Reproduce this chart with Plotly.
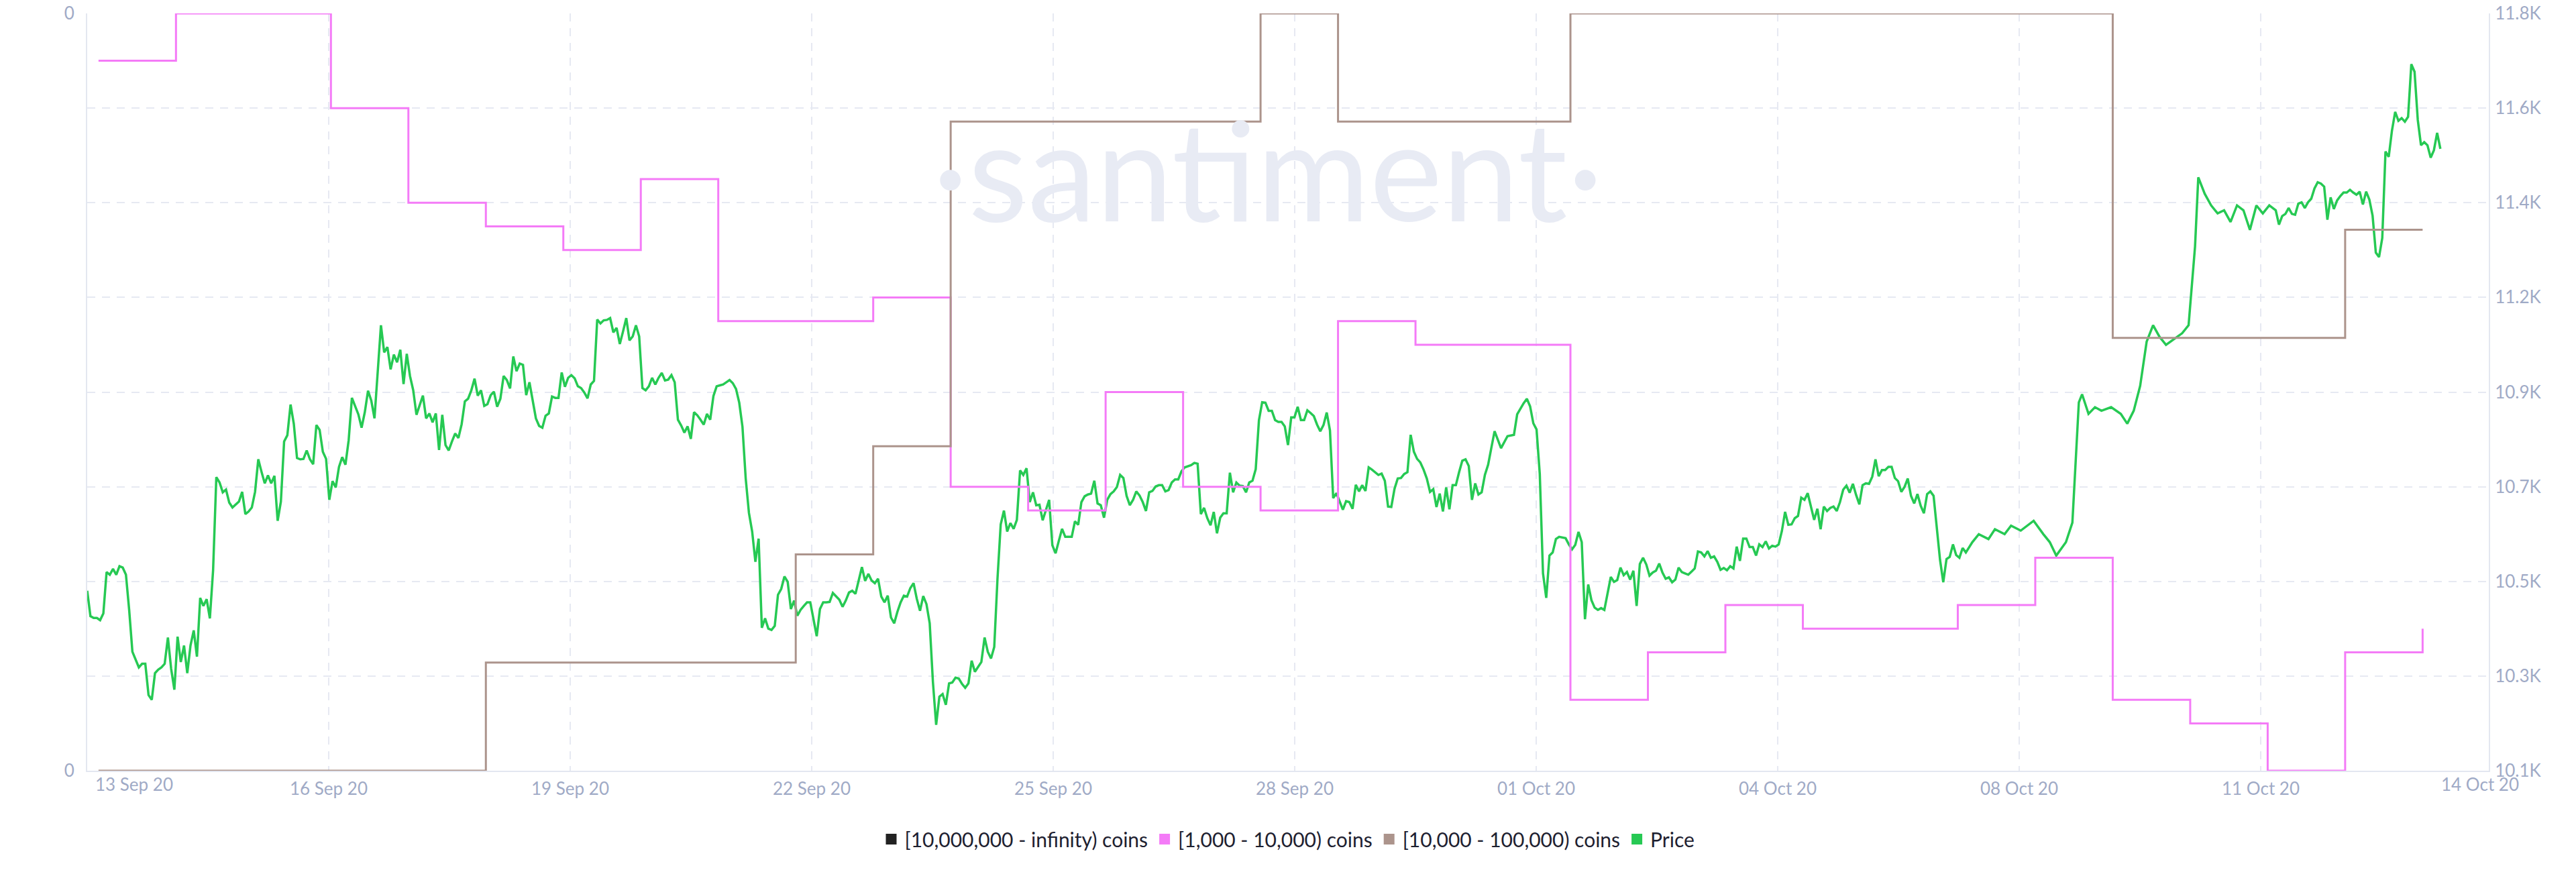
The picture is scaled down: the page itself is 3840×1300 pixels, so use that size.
import pandas as pd
import plotly.graph_objects as go

# ---------------- data ----------------
axis_start = "2020-09-12 20:30"
axis_end = "2020-10-13 20:30"

x_tick_labels = ["13 Sep 20", "16 Sep 20", "19 Sep 20", "22 Sep 20", "25 Sep 20",
                 "28 Sep 20", "01 Oct 20", "04 Oct 20", "08 Oct 20", "11 Oct 20", "14 Oct 20"]

price_tick_values = [10100, 10312.5, 10525, 10737.5, 10950, 11162.5, 11375, 11587.5, 11800]
price_tick_labels = ["10.1K", "10.3K", "10.5K", "10.7K", "10.9K", "11.2K", "11.4K", "11.6K", "11.8K"]

series_names = ["[10,000,000 - infinity) coins", "[1,000 - 10,000) coins",
                "[10,000 - 100,000) coins", "Price"]

# daily holder counts (relative units above the period minimum)
holder_dates = pd.date_range("2020-09-13", "2020-10-13", freq="D")
holders_1k_10k = [30, 32, 32, 28, 24, 23, 22, 25, 19, 19, 20, 12, 11, 16, 12, 11,
                  19, 18, 18, 3, 5, 7, 6, 6, 7, 9, 3, 2, 0, 5, 6]
holders_10k_100k = [0, 0, 0, 0, 0, 1, 1, 1, 1, 2, 3, 6, 6, 6, 6, 7,
                    6, 6, 6, 7, 7, 7, 7, 7, 7, 7, 4, 4, 4, 5, 5]
holders_1k_10k_scale = [0, 32]
holders_10k_100k_scale = [0, 7]

# hourly BTC price (hours after price_start)
price_start = "2020-09-12 20:30"
price_hours = (list(range(0, 437))
               + [438, 439, 440, 442, 443, 445, 446, 447, 448, 449, 450, 451, 452,
                  453, 454, 455, 456, 458, 459]
               + list(range(460, 583))
               + [584, 586, 589, 591, 594, 596, 599, 603, 606, 608, 610, 613, 615,
                  617, 618, 620, 622, 624, 627, 630, 632, 634, 636, 638, 640, 642,
                  644, 646, 649, 651, 653, 654, 656, 658, 660, 662, 664, 666, 668,
                  670, 672, 674, 676, 678]
               + list(range(679, 730)))
price_usd = [
    10504, 10447, 10443, 10443, 10438, 10453, 10546, 10540, 10553, 10540,
    10559, 10556, 10540, 10461, 10367, 10348, 10332, 10340, 10340, 10270,
    10259, 10319, 10327, 10332, 10340, 10399, 10329, 10282, 10401, 10344,
    10381, 10319, 10381, 10415, 10356, 10488, 10470, 10485, 10442, 10550,
    10759, 10747, 10725, 10731, 10702, 10691, 10698, 10704, 10726, 10676,
    10682, 10691, 10726, 10799, 10771, 10745, 10763, 10745, 10762, 10661,
    10704, 10839, 10853, 10922, 10879, 10802, 10799, 10800, 10819, 10799,
    10788, 10876, 10865, 10816, 10800, 10708, 10750, 10736, 10782, 10804,
    10787, 10842, 10937, 10919, 10900, 10870, 10905, 10953, 10931, 10891,
    11002, 11100, 11039, 11051, 11001, 11034, 11017, 11045, 10968, 11036,
    10986, 10954, 10899, 10919, 10942, 10891, 10902, 10882, 10902, 10820,
    10899, 10831, 10819, 10839, 10857, 10847, 10878, 10929, 10935, 10954,
    10980, 10942, 10954, 10919, 10923, 10943, 10951, 10917, 10935, 10986,
    10977, 10958, 11030, 10997, 11014, 11011, 10943, 10972, 10931, 10891,
    10874, 10870, 10897, 10902, 10940, 10937, 10937, 10994, 10962, 10982,
    10988, 10981, 10963, 10959, 10949, 10936, 10967, 10975, 11113, 11104,
    11111, 11112, 11116, 11084, 11094, 11058, 11086, 11116, 11066, 11075,
    11100, 11075, 10959, 10954, 10963, 10982, 10967, 10982, 10993, 10976,
    10978, 10988, 10972, 10888, 10875, 10859, 10873, 10845, 10905, 10898,
    10888, 10877, 10901, 10888, 10941, 10963, 10965, 10967, 10972, 10977,
    10970, 10957, 10926, 10872, 10756, 10679, 10637, 10569, 10621, 10421,
    10442, 10419, 10416, 10425, 10495, 10508, 10536, 10524, 10463, 10482,
    10448, 10461, 10470, 10478, 10478, 10442, 10402, 10463, 10478, 10478,
    10479, 10499, 10491, 10484, 10468, 10482, 10500, 10504, 10497, 10526,
    10557, 10526, 10542, 10527, 10521, 10531, 10491, 10478, 10493, 10444,
    10431, 10457, 10478, 10493, 10491, 10510, 10521, 10486, 10459, 10492,
    10474, 10431, 10299, 10203, 10266, 10272, 10248, 10296, 10298, 10309,
    10307, 10295, 10286, 10296, 10347, 10322, 10333, 10344, 10399, 10367,
    10352, 10378, 10531, 10653, 10684, 10637, 10656, 10643, 10663, 10774,
    10764, 10779, 10703, 10725, 10696, 10697, 10662, 10683, 10708, 10606,
    10588, 10616, 10643, 10625, 10625, 10625, 10660, 10652, 10703, 10716,
    10720, 10722, 10751, 10700, 10696, 10668, 10708, 10721, 10727, 10737,
    10764, 10757, 10717, 10696, 10708, 10727, 10718, 10703, 10683, 10725,
    10728, 10738, 10741, 10741, 10727, 10730, 10747, 10754, 10754, 10772,
    10781, 10784, 10786, 10791, 10789, 10676, 10690, 10667, 10651, 10681,
    10633, 10668, 10678, 10678, 10769, 10725, 10747, 10740, 10739, 10725,
    10747, 10751, 10777, 10887, 10927, 10926, 10908, 10908, 10887, 10883,
    10883, 10873, 10831, 10893, 10893, 10917, 10887, 10887, 10909, 10903,
    10896, 10877, 10862, 10876, 10904, 10864, 10712, 10723, 10705, 10686,
    10705, 10703, 10688, 10742, 10727, 10741, 10728, 10781, 10776, 10770,
    10764, 10767, 10751, 10693, 10692, 10733, 10756, 10757, 10766, 10770,
    10854, 10816, 10800, 10792, 10776, 10756, 10726, 10732, 10692, 10722,
    10682, 10736, 10687, 10741, 10741, 10770, 10796, 10799, 10784, 10708,
    10745, 10720, 10725, 10764, 10787, 10825, 10862,
    # 438..459 (sparse)
    10824, 10838, 10851, 10854, 10900, 10925, 10935, 10918, 10880, 10866,
    10766, 10543, 10488, 10583, 10590, 10620, 10625, 10622, 10608,
    # 460..582
    10597, 10607, 10636, 10613, 10440, 10518, 10483, 10466, 10461, 10465,
    10461, 10498, 10535, 10524, 10528, 10556, 10539, 10546, 10529, 10549,
    10470, 10564, 10578, 10563, 10538, 10545, 10549, 10565, 10545, 10531,
    10534, 10523, 10529, 10556, 10546, 10543, 10540, 10547, 10554, 10592,
    10590, 10581, 10593, 10578, 10581, 10569, 10551, 10555, 10550, 10559,
    10554, 10603, 10571, 10621, 10621, 10602, 10602, 10583, 10608, 10602,
    10615, 10599, 10605, 10603, 10608, 10638, 10681, 10652, 10653, 10667,
    10672, 10713, 10708, 10723, 10693, 10663, 10688, 10642, 10693, 10683,
    10690, 10693, 10683, 10703, 10731, 10740, 10724, 10744, 10719, 10698,
    10741, 10745, 10744, 10760, 10799, 10761, 10775, 10775, 10782, 10782,
    10757, 10750, 10726, 10737, 10756, 10717, 10700, 10721, 10695, 10678,
    10721, 10727, 10717, 10646, 10573, 10523, 10575, 10580, 10608, 10584,
    10578, 10600, 10590,
    # 584..678 (sparse)
    10613, 10631, 10620, 10642, 10631, 10650, 10639, 10661, 10631, 10613,
    10583, 10613, 10657, 10927, 10945, 10901, 10916, 10908, 10916, 10901,
    10879, 10908, 10964, 11063, 11100, 11074, 11056, 11067, 11082, 11100,
    11277, 11432, 11395, 11369, 11351, 11358, 11332, 11369, 11358, 11314,
    11369, 11351, 11369, 11358,
    # 679..729
    11326, 11345, 11350, 11363, 11350, 11348, 11373, 11376, 11363, 11376,
    11384, 11407, 11421, 11418, 11411, 11337, 11387, 11361, 11380, 11390,
    11398, 11398, 11404, 11398, 11393, 11400, 11371, 11400, 11382, 11346,
    11263, 11253, 11296, 11490, 11478, 11537, 11579, 11559, 11565, 11557,
    11568, 11686, 11669, 11561, 11504, 11511, 11504, 11476, 11493, 11532,
    11496,
]

# ---------------- styling ----------------
GREEN = "#26C953"
PINK = "#F47BF7"
BROWN = "#AC948C"
BLACK = "#222222"
GRID = "#E6E9F2"
AXLINE = "#E3E7F0"
TICK_TXT = "#9FAAC6"
FONT = "Lato, 'Open Sans', sans-serif"

t0 = pd.Timestamp(axis_start)
t1 = pd.Timestamp(axis_end)
span = t1 - t0
plot_px = 3580.0
step = span * (360.0 / plot_px)
inner_ticks = [(t0 + step * k).isoformat() for k in range(1, 10)]
end_ticks = [(t0 + span * (70.0 / plot_px)).isoformat(),
             (t0 + span * (3567.0 / plot_px)).isoformat()]

price_x = [pd.Timestamp(price_start) + pd.Timedelta(hours=h) for h in price_hours]

fig = go.Figure()

fig.add_trace(go.Scatter(x=holder_dates, y=holders_1k_10k, yaxis="y2", mode="lines",
                         line=dict(color=PINK, width=3, shape="hv"),
                         showlegend=False, hoverinfo="skip"))
fig.add_trace(go.Scatter(x=holder_dates, y=holders_10k_100k, yaxis="y3", mode="lines",
                         line=dict(color=BROWN, width=3, shape="hv"),
                         showlegend=False, hoverinfo="skip"))
fig.add_trace(go.Scatter(x=price_x, y=price_usd, yaxis="y", mode="lines",
                         line=dict(color=GREEN, width=3.5),
                         showlegend=False, hoverinfo="skip"))

for name, col, xa in zip(series_names, [BLACK, PINK, BROWN, GREEN], ["x2", "x", "x", "x"]):
    fig.add_trace(go.Scatter(x=[None], y=[None], xaxis=xa, mode="markers", name=name,
                             marker=dict(symbol="square", size=18, color=col)))

fig.add_annotation(text="·santiment·", xref="paper", yref="paper", x=0.4916, y=0.795,
                   xanchor="center", yanchor="middle", showarrow=False,
                   font=dict(family=FONT, size=205, color="#E8EBF4"))

# the page adds an 8px body margin, so the figure's own margins are offset by it
fig.update_layout(
    width=3840, height=1300,
    margin=dict(l=122, r=138, t=12, b=159, pad=0, autoexpand=False),
    paper_bgcolor="white", plot_bgcolor="white",
    font=dict(family=FONT, size=26, color=TICK_TXT),
    showlegend=True,
    legend=dict(orientation="h", x=0.5, xanchor="center", y=-0.0903, yanchor="middle",
                font=dict(family=FONT, size=30, color="#1E2130"),
                itemsizing="trace", bgcolor="rgba(0,0,0,0)"),
    xaxis=dict(type="date", range=[t0.isoformat(), t1.isoformat()], automargin=False,
               tickmode="array", tickvals=inner_ticks, ticktext=x_tick_labels[1:-1],
               showgrid=True, gridcolor=GRID, gridwidth=2, griddash="12px,10px",
               showline=True, linecolor=AXLINE, linewidth=2, mirror=False,
               ticks="", zeroline=False, ticklabelstandoff=3, ticklabeloverflow="allow",
               tickfont=dict(size=26, color=TICK_TXT)),
    xaxis2=dict(type="date", overlaying="x", anchor="y", side="bottom", automargin=False,
                range=[t0.isoformat(), t1.isoformat()],
                tickmode="array", tickvals=end_ticks,
                ticktext=[x_tick_labels[0], x_tick_labels[-1]],
                showgrid=False, showline=False, ticks="", zeroline=False,
                ticklabelstandoff=3, ticklabeloverflow="allow",
                tickfont=dict(size=26, color=TICK_TXT)),
    yaxis=dict(side="right", range=[price_tick_values[0], price_tick_values[-1]],
               automargin=False,
               tickmode="array", tickvals=price_tick_values, ticktext=price_tick_labels,
               showgrid=True, gridcolor=GRID, gridwidth=2, griddash="12px,10px",
               showline=True, linecolor=AXLINE, linewidth=2,
               ticks="", zeroline=False, ticklabelstandoff=2, ticklabeloverflow="allow",
               tickfont=dict(size=26, color=TICK_TXT)),
    yaxis2=dict(overlaying="y", side="left", range=holders_1k_10k_scale, automargin=False,
                tickmode="array", tickvals=holders_1k_10k_scale, ticktext=["0", "0"],
                showgrid=False, showline=True, linecolor=AXLINE, linewidth=2,
                ticks="", zeroline=False, ticklabelstandoff=12, ticklabeloverflow="allow",
                tickfont=dict(size=26, color=TICK_TXT)),
    yaxis3=dict(overlaying="y", range=holders_10k_100k_scale, visible=False),
)

fig.write_html("out.html")
